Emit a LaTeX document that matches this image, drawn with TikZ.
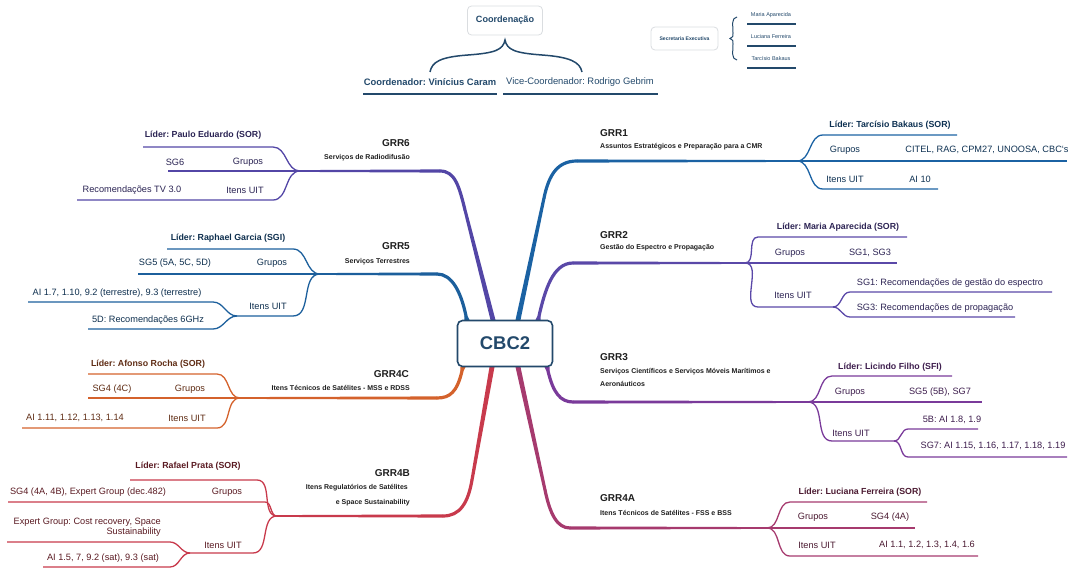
\documentclass[tikz,border=0pt]{standalone}
\usepackage{fontspec}
\setmainfont{Liberation Sans}
\usetikzlibrary{calc}
\frenchspacing
\definecolor{cSix}{HTML}{5346A6}
\definecolor{cFive}{HTML}{1C5F9C}
\definecolor{cFourC}{HTML}{D4622C}
\definecolor{cFourB}{HTML}{C83A4C}
\definecolor{cOne}{HTML}{1B62A3}
\definecolor{cTwo}{HTML}{5A48A8}
\definecolor{cThree}{HTML}{7A3A9A}
\definecolor{cFourA}{HTML}{A63A6E}
\definecolor{topc}{HTML}{23496B}
\definecolor{titlec}{HTML}{1E1E1E}
\definecolor{boxgray}{HTML}{DADDE0}
\newcommand\mainbranch[7]{%
  \fill[#1] ($(#2)+(-2.5,0)$) -- ($(#3)+(-1.6,0)$) -- ($(#3)+(1.6,0)$) -- ($(#2)+(2.5,0)$) -- cycle;
  \draw[#1, line width=3.2pt, line cap=round] (#3) .. controls (#4) and (#5) .. (#6);
  \fill[#1] ($(#6)+(0,-1.6)$) -- ($(#7)+(0,-0.9)$) -- ($(#7)+(0,0.9)$) -- ($(#6)+(0,1.6)$) -- cycle;
}
\newcommand\leafL[5]{\coordinate (#3a) at (#4); \coordinate (#3b) at (#5);
  \draw[sl, #1] (#2) to[out=180,in=0] (#3a) -- (#3b);}
\newcommand\leafR[5]{\coordinate (#3a) at (#4); \coordinate (#3b) at (#5);
  \draw[sl, #1] (#2) to[out=0,in=180] (#3a) -- (#3b);}
\begin{document}
\begin{tikzpicture}[x=1pt,y=-1pt,
  txt/.style={inner sep=0pt, font=\fontsize{9.2}{10}\selectfont},
  ldr/.style={inner sep=0pt, font=\fontsize{8.8}{10}\selectfont\bfseries},
  ttl/.style={inner sep=0pt, font=\fontsize{10}{12}\selectfont\bfseries, text=titlec},
  subt/.style={inner sep=0pt, font=\fontsize{7}{8.5}\selectfont\bfseries, text=titlec},
  sl/.style={line width=1.3pt},
  softbox/.style={draw=boxgray, line width=0.8pt, rounded corners=4pt, fill=white},
]
\useasboundingbox (0,0) rectangle (1068,570);

% ---------- top: coordination ----------
\node[softbox, minimum width=75pt, minimum height=29pt, font=\fontsize{9.1}{11}\selectfont\bfseries, text=topc] (coord) at (505,20.5) {Coordenação};
\coordinate (brtip) at (505,40);
\coordinate (brl) at (430,72);
\coordinate (brr) at (582,72);
\draw[topc, line width=1.5pt] (brl) .. controls (432,62) and (440,57) .. (468,55) .. controls (495,53) and (503,50) .. (brtip)
  .. controls (507,50) and (515,53) .. (542,55) .. controls (570,57) and (580,62) .. (brr);
\node[inner sep=0pt, font=\fontsize{9.4}{11}\selectfont\bfseries, text=topc] (coordn) at (430,82) {Coordenador: Vinícius Caram};
\node[inner sep=0pt, font=\fontsize{9.4}{11}\selectfont, text=topc] (vicen) at (580,82) {Vice-Coordenador: Rodrigo Gebrim};
\coordinate (u1a) at (363,94); \coordinate (u1b) at (497,94);
\coordinate (u2a) at (503,94); \coordinate (u2b) at (658,94);
\draw[topc, line width=2pt] (u1a) -- (u1b);
\draw[topc, line width=2pt] (u2a) -- (u2b);

% ---------- top: secretaria ----------
\node[softbox, minimum width=67pt, minimum height=23pt, font=\fontsize{5.1}{6}\selectfont\bfseries, text=topc] (secr) at (684.5,38.5) {Secretaria Executiva};
\coordinate (vbt) at (737,17); \coordinate (vbm) at (730,38.5); \coordinate (vbb) at (737,60);
\draw[topc, line width=1pt] (vbt) .. controls (731,18) and (733,25) .. (733,33) .. controls (733,37) .. (vbm)
  .. controls (733,40) .. (733,44) .. controls (733,52) and (731,59) .. (vbb);
\node[inner sep=0pt, font=\fontsize{5.5}{6}\selectfont, text=topc] (sm1) at (771,15) {Maria Aparecida};
\node[inner sep=0pt, font=\fontsize{5.5}{6}\selectfont, text=topc] (sm2) at (771,36.5) {Luciana Ferreira};
\node[inner sep=0pt, font=\fontsize{5.5}{6}\selectfont, text=topc] (sm3) at (771,58.5) {Tarcísio Bakaus};
\foreach \yy/\nm in {24/a,46/b,68/c}{
  \coordinate (sl\nm1) at (747,\yy); \coordinate (sl\nm2) at (796,\yy);
  \draw[topc, line width=1.3pt] (sl\nm1) -- (sl\nm2);
}

% ---------- main branches ----------
% GRR6
\coordinate (B6) at (493,320); \coordinate (S6) at (465,210); \coordinate (E6) at (440,171); \coordinate (b6) at (300,171);
\mainbranch{cSix}{B6}{S6}{459,186}{455,171}{E6}{b6}
% GRR5
\coordinate (B5) at (467,320); \coordinate (S5) at (466,316); \coordinate (E5) at (437,274); \coordinate (b5) at (320,274);
\mainbranch{cFive}{B5}{S5}{461,292}{452,274}{E5}{b5}
% GRR4C
\coordinate (B4c) at (463,367); \coordinate (S4c) at (462,371); \coordinate (E4c) at (437,398); \coordinate (b4c) at (240,398);
\mainbranch{cFourC}{B4c}{S4c}{457,392}{450,398}{E4c}{b4c}
% GRR4B
\coordinate (B4b) at (492,367); \coordinate (S4b) at (472,480); \coordinate (E4b) at (443,516); \coordinate (b4b) at (277,516);
\mainbranch{cFourB}{B4b}{S4b}{468,503}{460,516}{E4b}{b4b}
% GRR1
\coordinate (B1) at (518,320); \coordinate (S1) at (544,198); \coordinate (E1) at (577,161); \coordinate (b1) at (797,161);
\mainbranch{cOne}{B1}{S1}{549,174}{558,161}{E1}{b1}
% GRR2
\coordinate (B2) at (538,320); \coordinate (S2) at (539,316); \coordinate (E2) at (573,263); \coordinate (b2) at (745,263);
\mainbranch{cTwo}{B2}{S2}{545,290}{553,263}{E2}{b2}
% GRR3
\coordinate (B3) at (547,367); \coordinate (S3) at (548,371); \coordinate (E3) at (573,402); \coordinate (b3) at (808,402);
\mainbranch{cThree}{B3}{S3}{553,392}{560,402}{E3}{b3}
% GRR4A
\coordinate (B4a) at (518,367); \coordinate (S4a) at (545,490); \coordinate (E4a) at (570,528); \coordinate (b4a) at (767,528);
\mainbranch{cFourA}{B4a}{S4a}{550,514}{557,528}{E4a}{b4a}

% ---------- central box ----------
\node[draw=topc, line width=1.6pt, rounded corners=5pt, fill=white, minimum width=95pt, minimum height=46pt,
  font=\fontsize{18.4}{20}\selectfont\bfseries, text=topc] (cbc) at (505,343.5) {CBC2};

% ---------- titles ----------
\node[ttl, anchor=east] (t6) at (410,143) {GRR6};
\node[subt, anchor=east] (s6) at (410,158) {Serviços de Radiodifusão};
\node[ttl, anchor=east] (t5) at (410,246) {GRR5};
\node[subt, anchor=east] (s5) at (410,262) {Serviços Terrestres};
\node[ttl, anchor=east] (t4c) at (409,374) {GRR4C};
\node[subt, anchor=east] (s4c) at (410,388) {Itens Técnicos de Satélites - MSS e RDSS};
\node[ttl, anchor=east] (t4b) at (410,473) {GRR4B};
\node[subt, anchor=east] (s4b1) at (408,488) {Itens Regulatórios de Satélites};
\node[subt, anchor=east] (s4b2) at (410,503) {e Space Sustainability};
\node[ttl, anchor=west] (t1) at (600,133) {GRR1};
\node[subt, anchor=west] (s1) at (600,147) {Assuntos Estratégicos e Preparação para a CMR};
\node[ttl, anchor=west] (t2) at (600,235) {GRR2};
\node[subt, anchor=west] (s2) at (600,248) {Gestão do Espectro e Propagação};
\node[ttl, anchor=west] (t3) at (600,357) {GRR3};
\node[subt, anchor=west] (s3a) at (600,372) {Serviços Científicos e Serviços Móveis Marítimos e};
\node[subt, anchor=west] (s3b) at (600,384) {Aeronáuticos};
\node[ttl, anchor=west] (t4a) at (600,498) {GRR4A};
\node[subt, anchor=west] (s4a) at (600,513) {Itens Técnicos de Satélites -  FSS e BSS};

% ---------- GRR6 leaves ----------
\leafL{cSix}{b6}{g6l}{273,147}{143,147}
\leafL{cSix}{b6}{g6g}{290,171}{168,171}
\leafL{cSix}{b6}{g6i}{273,200}{77,200}
\begin{scope}[text=cSix!50!black]
\node[ldr] (n6l) at (203,135) {Líder: Paulo Eduardo (SOR)};
\node[txt] (n6g1) at (175,162) {SG6};
\node[txt] (n6g2) at (248,162) {Grupos};
\node[txt] (n6i1) at (132,190) {Recomendações TV 3.0};
\node[txt] (n6i2) at (245,190) {Itens UIT};
\end{scope}

% ---------- GRR5 leaves ----------
\leafL{cFive}{b5}{g5l}{293,249}{167,249}
\leafL{cFive}{b5}{g5g}{310,274}{138,274}
\leafL{cFive}{b5}{g5i}{293,316}{237,316}
\leafL{cFive}{g5ib}{g5i1}{213,302}{28,302}
\leafL{cFive}{g5ib}{g5i2}{213,329}{88,329}
\begin{scope}[text=cFive!50!black]
\node[ldr] (n5l) at (228,238) {Líder: Raphael Garcia (SGI)};
\node[txt] (n5g1) at (175,263) {SG5 (5A, 5C, 5D)};
\node[txt] (n5g2) at (272,263) {Grupos};
\node[txt] (n5i) at (268,306) {Itens UIT};
\node[txt] (n5i1) at (117,293) {AI 1.7, 1.10, 9.2 (terrestre), 9.3 (terrestre)};
\node[txt] (n5i2) at (148,320) {5D: Recomendações 6GHz};
\end{scope}

% ---------- GRR4C leaves ----------
\leafL{cFourC}{b4c}{g4cl}{217,374}{88,374}
\leafL{cFourC}{b4c}{g4cg}{230,398}{88,398}
\leafL{cFourC}{b4c}{g4ci}{217,428}{22,428}
\begin{scope}[text=cFourC!45!black]
\node[ldr] (n4cl) at (148,364) {Líder: Afonso Rocha (SOR)};
\node[txt] (n4cg1) at (112,389) {SG4 (4C)};
\node[txt] (n4cg2) at (190,389) {Grupos};
\node[txt] (n4ci1) at (75,418) {AI 1.11, 1.12, 1.13, 1.14};
\node[txt] (n4ci2) at (187,418) {Itens UIT};
\end{scope}

% ---------- GRR4B leaves ----------
\leafL{cFourB}{b4b}{g4bl}{257,480}{130,480}
\leafL{cFourB}{b4b}{g4bg}{265,502}{8,502}
\leafL{cFourB}{b4b}{g4bi}{253,553}{190,553}
\leafL{cFourB}{g4bib}{g4bi1}{170,542}{7,542}
\leafL{cFourB}{g4bib}{g4bi2}{170,567}{43,567}
\begin{scope}[text=cFourB!45!black]
\node[ldr] (n4bl) at (188,466) {Líder: Rafael Prata (SOR)};
\node[txt] (n4bg1) at (88,492) {SG4 (4A, 4B), Expert Group (dec.482)};
\node[txt] (n4bg2) at (227,492) {Grupos};
\node[txt] (n4bi) at (223,545) {Itens UIT};
\node[txt, align=right, anchor=east] (n4bi1) at (161,527) {Expert Group: Cost recovery, Space\\Sustainability};
\node[txt] (n4bi2) at (103,558) {AI 1.5, 7, 9.2 (sat), 9.3 (sat)};
\end{scope}

% ---------- GRR1 leaves ----------
\leafR{cOne}{b1}{g1l}{823,135}{957,135}
\leafR{cOne}{b1}{g1g}{807,161}{1067,161}
\leafR{cOne}{b1}{g1i}{823,189}{938,189}
\begin{scope}[text=cOne!50!black]
\node[ldr] (n1l) at (890,125) {Líder: Tarcísio Bakaus (SOR)};
\node[txt] (n1g1) at (845,150) {Grupos};
\node[txt] (n1g2) at (987,150) {CITEL, RAG, CPM27, UNOOSA, CBC`s};
\node[txt] (n1i1) at (845,179) {Itens UIT};
\node[txt] (n1i2) at (920,179) {AI 10};
\end{scope}

% ---------- GRR2 leaves ----------
\leafR{cTwo}{b2}{g2l}{758,237}{907,237}
\leafR{cTwo}{b2}{g2g}{755,263}{897,263}
\leafR{cTwo}{b2}{g2i}{758,307}{833,307}
\leafR{cTwo}{g2ib}{g2i1}{850,292}{1052,292}
\leafR{cTwo}{g2ib}{g2i2}{850,317}{1015,317}
\begin{scope}[text=cTwo!50!black]
\node[ldr] (n2l) at (838,227) {Líder: Maria Aparecida (SOR)};
\node[txt] (n2g1) at (790,253) {Grupos};
\node[txt] (n2g2) at (870,253) {SG1, SG3};
\node[txt] (n2i) at (793,295) {Itens UIT};
\node[txt] (n2i1) at (950,283) {SG1: Recomendações de gestão do espectro};
\node[txt] (n2i2) at (935,308) {SG3: Recomendações de propagação};
\end{scope}

% ---------- GRR3 leaves ----------
\leafR{cThree}{b3}{g3l}{832,376}{952,376}
\leafR{cThree}{b3}{g3g}{818,402}{982,402}
\leafR{cThree}{b3}{g3i}{832,441}{894,441}
\leafR{cThree}{g3ib}{g3i1}{908,429}{978,429}
\leafR{cThree}{g3ib}{g3i2}{908,457}{1067,457}
\begin{scope}[text=cThree!50!black]
\node[ldr] (n3l) at (890,367) {Líder: Licindo Filho (SFI)};
\node[txt] (n3g1) at (850,392) {Grupos};
\node[txt] (n3g2) at (940,392) {SG5 (5B), SG7};
\node[txt] (n3i) at (851,433) {Itens UIT};
\node[txt] (n3i1) at (952,420) {5B: AI 1.8, 1.9};
\node[txt] (n3i2) at (993,446) {SG7: AI 1.15, 1.16, 1.17, 1.18, 1.19};
\end{scope}

% ---------- GRR4A leaves ----------
\leafR{cFourA}{b4a}{g4al}{790,502}{927,502}
\leafR{cFourA}{b4a}{g4ag}{777,528}{915,528}
\leafR{cFourA}{b4a}{g4ai}{790,556}{978,556}
\begin{scope}[text=cFourA!45!black]
\node[ldr] (n4al) at (860,492) {Líder: Luciana Ferreira (SOR)};
\node[txt] (n4ag1) at (813,517) {Grupos};
\node[txt] (n4ag2) at (890,517) {SG4 (4A)};
\node[txt] (n4ai1) at (817,545) {Itens UIT};
\node[txt] (n4ai2) at (927,545) {AI 1.1, 1.2, 1.3, 1.4, 1.6};
\end{scope}
\end{tikzpicture}
\end{document}
